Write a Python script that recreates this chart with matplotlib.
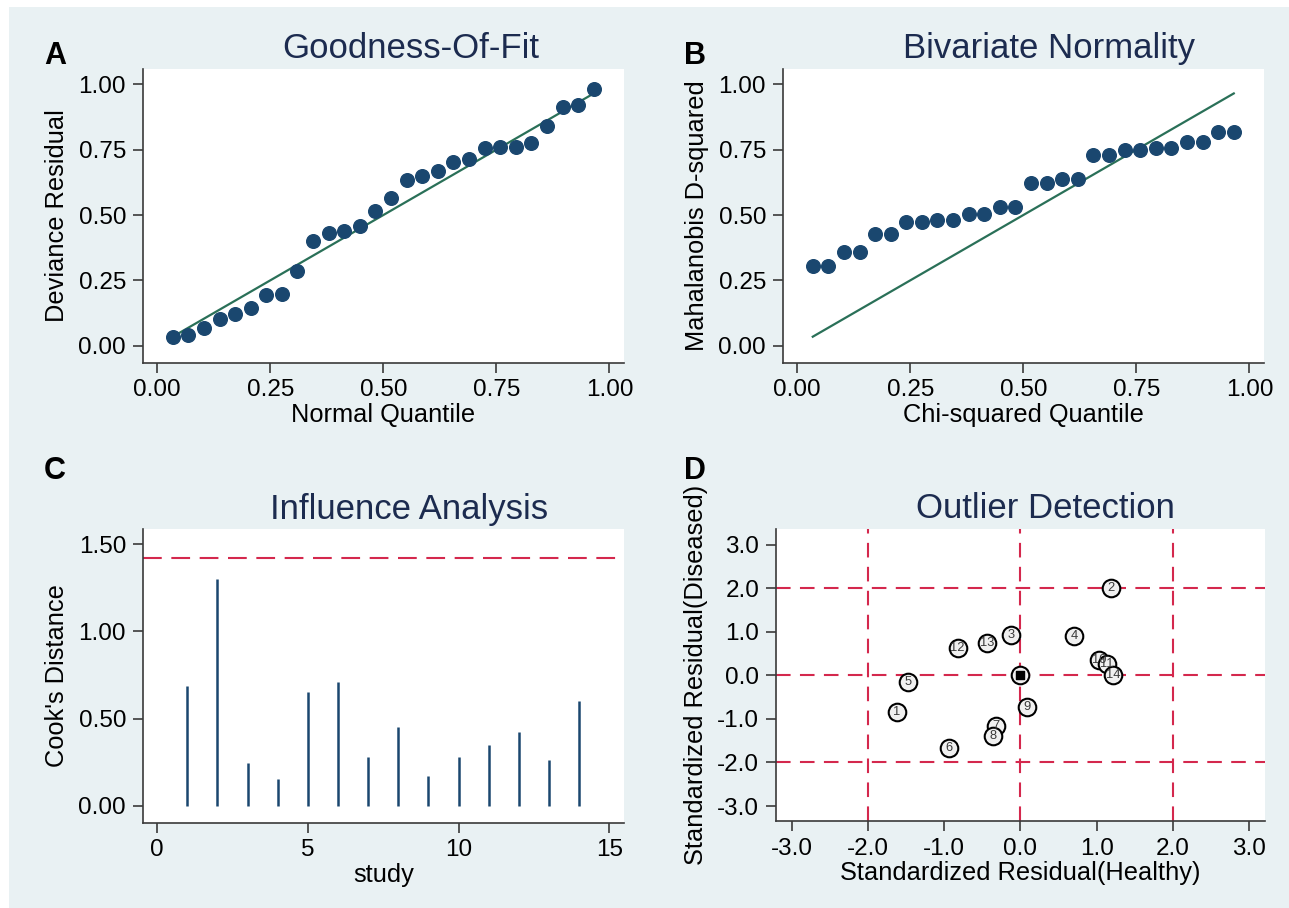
import matplotlib
matplotlib.use("Agg")
import matplotlib.pyplot as plt
from matplotlib.patches import Rectangle
from matplotlib.ticker import FormatStrFormatter

plt.rcParams['font.family'] = ['Liberation Sans', 'DejaVu Sans']

W, H = 1289, 908
BG = '#e9f1f3'
NAVY = '#1a476f'
GREEN = '#2a7058'
RED = '#d4284d'
TITLE_C = '#1c2b4f'

# quantile positions shared by panels A and B (28 points)
quantiles = [0.0345, 0.0690, 0.1034, 0.1379, 0.1724, 0.2069, 0.2414, 0.2759,
             0.3103, 0.3448, 0.3793, 0.4138, 0.4483, 0.4828, 0.5172, 0.5517,
             0.5862, 0.6207, 0.6552, 0.6897, 0.7241, 0.7586, 0.7931, 0.8276,
             0.8621, 0.8966, 0.9310, 0.9655]

# A: goodness of fit
deviance = [0.034, 0.041, 0.069, 0.103, 0.122, 0.145, 0.193, 0.199, 0.287,
            0.401, 0.431, 0.440, 0.459, 0.515, 0.566, 0.635, 0.651, 0.670,
            0.702, 0.714, 0.755, 0.759, 0.759, 0.777, 0.842, 0.913, 0.923,
            0.983]

# B: bivariate normality
maha_d2 = [0.305, 0.305, 0.358, 0.358, 0.427, 0.427, 0.473, 0.473, 0.481,
           0.481, 0.505, 0.505, 0.532, 0.532, 0.621, 0.621, 0.639, 0.639,
           0.731, 0.731, 0.749, 0.749, 0.758, 0.758, 0.778, 0.778, 0.819,
           0.819]

# C: influence analysis
study = [1, 2, 3, 4, 5, 6, 7, 8, 9, 10, 11, 12, 13, 14]
cooks_d = [0.687, 1.299, 0.247, 0.153, 0.652, 0.708, 0.279, 0.453, 0.172,
           0.279, 0.350, 0.423, 0.260, 0.601]
cooks_cut = 1.423

# D: outlier detection
res_healthy = [-1.62, 1.185, -0.126, 0.708, -1.481, -0.939, -0.323, -0.362,
               0.079, 1.036, 1.132, -0.826, -0.436, 1.219]
res_diseased = [-0.84, 2.00, 0.92, 0.91, -0.16, -1.67, -1.17, -1.40,
                -0.72, 0.35, 0.26, 0.63, 0.74, 0.00]
summary_x = [0.0]
summary_y = [0.0]
cut_lines = [-2.0, 0.0, 2.0]

TICK_FS = 17.5
LABEL_FS = 18.3


def box(l, t, r, b):
    return [l / W, 1 - b / H, (r - l) / W, (b - t) / H]


def style(ax):
    ax.set_facecolor('white')
    for s in ['top', 'right']:
        ax.spines[s].set_visible(False)
    for s in ['left', 'bottom']:
        ax.spines[s].set_color('#3a3a3a')
        ax.spines[s].set_linewidth(1.2)
    ax.tick_params(direction='out', length=7, width=1.2, color='#3a3a3a',
                   labelsize=TICK_FS, pad=5)


fig = plt.figure(figsize=(W / 100, H / 100), dpi=100)
fig.patch.set_facecolor('white')
fig.patches.append(Rectangle((9 / W, 0), 1, 1 - 7 / H, transform=fig.transFigure,
                             facecolor=BG, edgecolor='none', zorder=-10))

# ---- A
axA = fig.add_axes(box(142.7, 69, 624.3, 362.7))
style(axA)
axA.plot(quantiles, quantiles, color=GREEN, lw=1.6, zorder=2)
axA.plot(quantiles, deviance, 'o', color=NAVY, ms=9.8, zorder=3)
axA.set_xlim(-0.032, 1.033)
axA.set_ylim(-0.065, 1.059)
axA.set_xticks([0, 0.25, 0.5, 0.75, 1.0])
axA.set_yticks([0, 0.25, 0.5, 0.75, 1.0])
axA.xaxis.set_major_formatter(FormatStrFormatter('%.2f'))
axA.yaxis.set_major_formatter(FormatStrFormatter('%.2f'))
axA.set_xlabel('Normal Quantile', fontsize=LABEL_FS, labelpad=1)
axA.set_ylabel('Deviance Residual', fontsize=LABEL_FS, labelpad=7)

# ---- B
axB = fig.add_axes(box(782.7, 69, 1264.3, 362.7))
style(axB)
axB.plot(quantiles, quantiles, color=GREEN, lw=1.6, zorder=2)
axB.plot(quantiles, maha_d2, 'o', color=NAVY, ms=9.8, zorder=3)
axB.set_xlim(-0.032, 1.033)
axB.set_ylim(-0.065, 1.059)
axB.set_xticks([0, 0.25, 0.5, 0.75, 1.0])
axB.set_yticks([0, 0.25, 0.5, 0.75, 1.0])
axB.xaxis.set_major_formatter(FormatStrFormatter('%.2f'))
axB.yaxis.set_major_formatter(FormatStrFormatter('%.2f'))
axB.set_xlabel('Chi-squared Quantile', fontsize=LABEL_FS, labelpad=1)
axB.set_ylabel('Mahalanobis D-squared', fontsize=LABEL_FS, labelpad=7)

# ---- C
axC = fig.add_axes(box(142.7, 529, 624.3, 822.7))
style(axC)
axC.vlines(study, 0, cooks_d, color=NAVY, lw=1.8)
axC.axhline(cooks_cut, color=RED, lw=1.5, linestyle=(0, (9, 4.6)))
axC.set_xlim(-0.48, 15.5)
axC.set_ylim(-0.098, 1.588)
axC.set_xticks([0, 5, 10, 15])
axC.set_yticks([0, 0.5, 1.0, 1.5])
axC.yaxis.set_major_formatter(FormatStrFormatter('%.2f'))
axC.set_xlabel('study', fontsize=LABEL_FS, labelpad=1)
axC.set_ylabel("Cook's Distance", fontsize=LABEL_FS, labelpad=7)

# ---- D
axD = fig.add_axes(box(776, 529.3, 1265, 821.3))
style(axD)
for v in cut_lines:
    axD.axhline(v, color=RED, lw=1.5, linestyle=(0, (7, 4.5)), zorder=1)
    axD.axvline(v, color=RED, lw=1.5, linestyle=(0, (7, 4.5)), zorder=1)
axD.scatter(res_healthy, res_diseased, s=160, facecolor='#f0f0f0',
            edgecolor='black', linewidth=1.5, zorder=3)
for i, (x, y) in enumerate(zip(res_healthy, res_diseased)):
    axD.text(x, y, str(study[i]), fontsize=9.3, color='#3a3a3a',
             ha='center', va='center', zorder=4)
axD.scatter(summary_x, summary_y, s=160, facecolor='#f0f0f0',
            edgecolor='black', linewidth=1.5, zorder=5)
axD.scatter(summary_x, summary_y, s=40, marker='s', color='black', zorder=6)
axD.set_xlim(-3.21, 3.21)
axD.set_ylim(-3.35, 3.35)
axD.set_xticks([-3, -2, -1, 0, 1, 2, 3])
axD.set_yticks([-3, -2, -1, 0, 1, 2, 3])
axD.xaxis.set_major_formatter(FormatStrFormatter('%.1f'))
axD.yaxis.set_major_formatter(FormatStrFormatter('%.1f'))
axD.set_xlabel('Standardized Residual(Healthy)', fontsize=LABEL_FS, labelpad=1)
axD.set_ylabel('Standardized Residual(Diseased)', fontsize=LABEL_FS, labelpad=7)

# titles and panel letters
titles = ['Goodness-Of-Fit', 'Bivariate Normality', 'Influence Analysis',
          'Outlier Detection']
title_pos = [(411, 58), (1049, 58), (409, 518.5), (1045, 518.5)]
for t, (x, y) in zip(titles, title_pos):
    fig.text(x / W, 1 - y / H, t, fontsize=25, color=TITLE_C,
             ha='center', va='baseline')

letters = ['A', 'B', 'C', 'D']
letter_pos = [(44, 64), (684, 64), (44, 479), (684, 479)]
for t, (x, y) in zip(letters, letter_pos):
    fig.text(x / W, 1 - y / H, t, fontsize=22, fontweight='bold',
             color='black', ha='left', va='baseline')

fig.savefig('out.png', dpi=100, facecolor=fig.get_facecolor())
